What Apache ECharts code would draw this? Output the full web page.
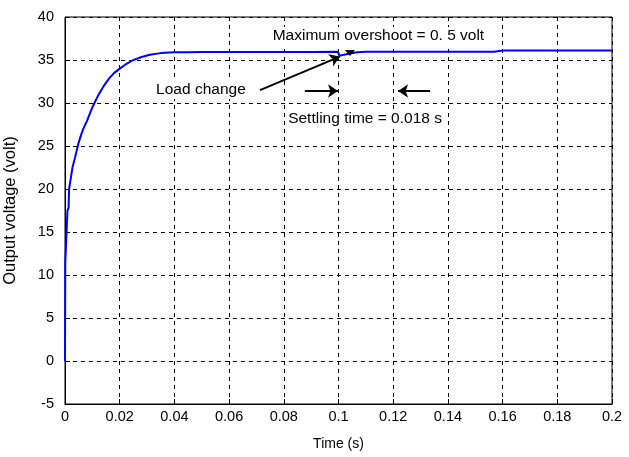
<!DOCTYPE html>
<html>
<head>
<meta charset="utf-8">
<script src="https://cdn.jsdelivr.net/npm/echarts@6/dist/echarts.min.js"></script>
<style>html,body{margin:0;padding:0;background:#fff;}#c{width:629px;height:457px;}</style>
</head>
<body>
<div id="c"></div>
<script>
var timeS = [0, 0.0001, 0.0008, 0.0009, 0.0013, 0.0015, 0.0022, 0.0028, 0.0037, 0.0049, 0.0061, 0.0067, 0.008, 0.010, 0.012, 0.014, 0.016, 0.018, 0.020, 0.022, 0.025, 0.028, 0.031, 0.035, 0.04, 0.045, 0.05, 0.06, 0.07, 0.08, 0.09, 0.0998, 0.1003, 0.102, 0.104, 0.107, 0.11, 0.12, 0.13, 0.14, 0.15, 0.157, 0.16, 0.17, 0.18, 0.19, 0.2];
var voltage = [0, 11.4, 11.6, 17.5, 17.8, 20, 21.4, 22.6, 23.7, 25.3, 26.5, 27, 27.9, 29.5, 30.8, 31.9, 32.8, 33.5, 34.0, 34.45, 35.0, 35.35, 35.6, 35.8, 35.9, 35.9, 35.92, 35.93, 35.93, 35.94, 35.94, 35.95, 35.5, 35.6, 35.75, 35.9, 35.95, 35.95, 35.95, 35.95, 35.95, 35.95, 36.1, 36.1, 36.1, 36.1, 36.1];
var xTickLabels = ['0', '0.02', '0.04', '0.06', '0.08', '0.1', '0.12', '0.14', '0.16', '0.18', '0.2'];
var yTickLabels = ['-5', '0', '5', '10', '15', '20', '25', '30', '35', '40'];

var annotations = [
  {text: 'Maximum overshoot = 0. 5 volt', coord: [0.1146, 37.8]},
  {text: 'Load change', coord: [0.0497, 31.5]},
  {text: 'Settling time = 0.018 s', coord: [0.1097, 28.2]}
];
var arrows = [
  [[0.0713, 31.5], [0.1005, 35.4]],
  [[0.0877, 31.4], [0.0998, 31.4]],
  [[0.1335, 31.4], [0.1218, 31.4]]
];

var FONT = 'Liberation Sans, Arial, sans-serif';
var chart = echarts.init(document.getElementById('c'), null, {renderer: 'canvas'});
var seriesData = timeS.map(function (t, i) { return [t, voltage[i]]; });

chart.setOption({
  backgroundColor: '#fff',
  animation: false,
  grid: {left: 65, right: 17, top: 17, bottom: 53, show: true, borderColor: '#000', borderWidth: 1, backgroundColor: '#fff', containLabel: false, outerBoundsMode: 'none'},
  xAxis: {
    type: 'value', min: 0, max: 0.2, interval: 0.02,
    name: 'Time (s)', nameLocation: 'middle', nameGap: 33,
    nameTextStyle: {color: '#000', fontSize: 14, fontFamily: FONT},
    axisLine: {show: true, onZero: false, lineStyle: {color: '#000', width: 1}},
    axisTick: {show: true, inside: true, length: 5, lineStyle: {color: '#000'}},
    axisLabel: {color: '#000', fontSize: 14.5, fontFamily: FONT, margin: 5,
      formatter: function (v) { return xTickLabels[Math.round(v / 0.02)]; }},
    splitLine: {show: true, lineStyle: {color: '#000', type: [4, 4], width: 1}}
  },
  yAxis: {
    type: 'value', min: -5, max: 40, interval: 5,
    name: 'Output voltage (volt)', nameLocation: 'middle', nameGap: 46,
    nameTextStyle: {color: '#000', fontSize: 16.5, fontFamily: FONT},
    axisLine: {show: true, onZero: false, lineStyle: {color: '#000', width: 1}},
    axisTick: {show: true, inside: true, length: 5, lineStyle: {color: '#000'}},
    axisLabel: {color: '#000', fontSize: 14.5, fontFamily: FONT, margin: 11,
      formatter: function (v) { return yTickLabels[Math.round((v + 5) / 5)]; }},
    splitLine: {show: true, lineStyle: {color: '#000', type: [4, 4], width: 1}}
  },
  series: [
    {
      type: 'line', data: seriesData, showSymbol: false, symbol: 'none',
      lineStyle: {color: '#0000ff', width: 2}, z: 3,
      markLine: {
        silent: true, symbol: ['none', 'arrow'], symbolSize: 10,
        lineStyle: {color: '#000', width: 2, type: 'solid'},
        label: {show: false},
        data: arrows.map(function (a) { return [{coord: a[0]}, {coord: a[1]}]; })
      },
      markPoint: {
        silent: true,
        data: annotations.map(function (a) {
          return {coord: a.coord, symbol: 'rect', symbolSize: 0,
            label: {show: true, position: 'inside', formatter: a.text, color: '#000',
              fontSize: 15.5, fontFamily: FONT, backgroundColor: '#fff', padding: [1, 2]}};
        }).concat([{coord: [0.1042, 35.8], symbol: 'triangle', symbolRotate: 180, symbolSize: [10, 6],
          itemStyle: {color: '#000'}, label: {show: false}}])
      }
    }
  ]
});
</script>
</body>
</html>
